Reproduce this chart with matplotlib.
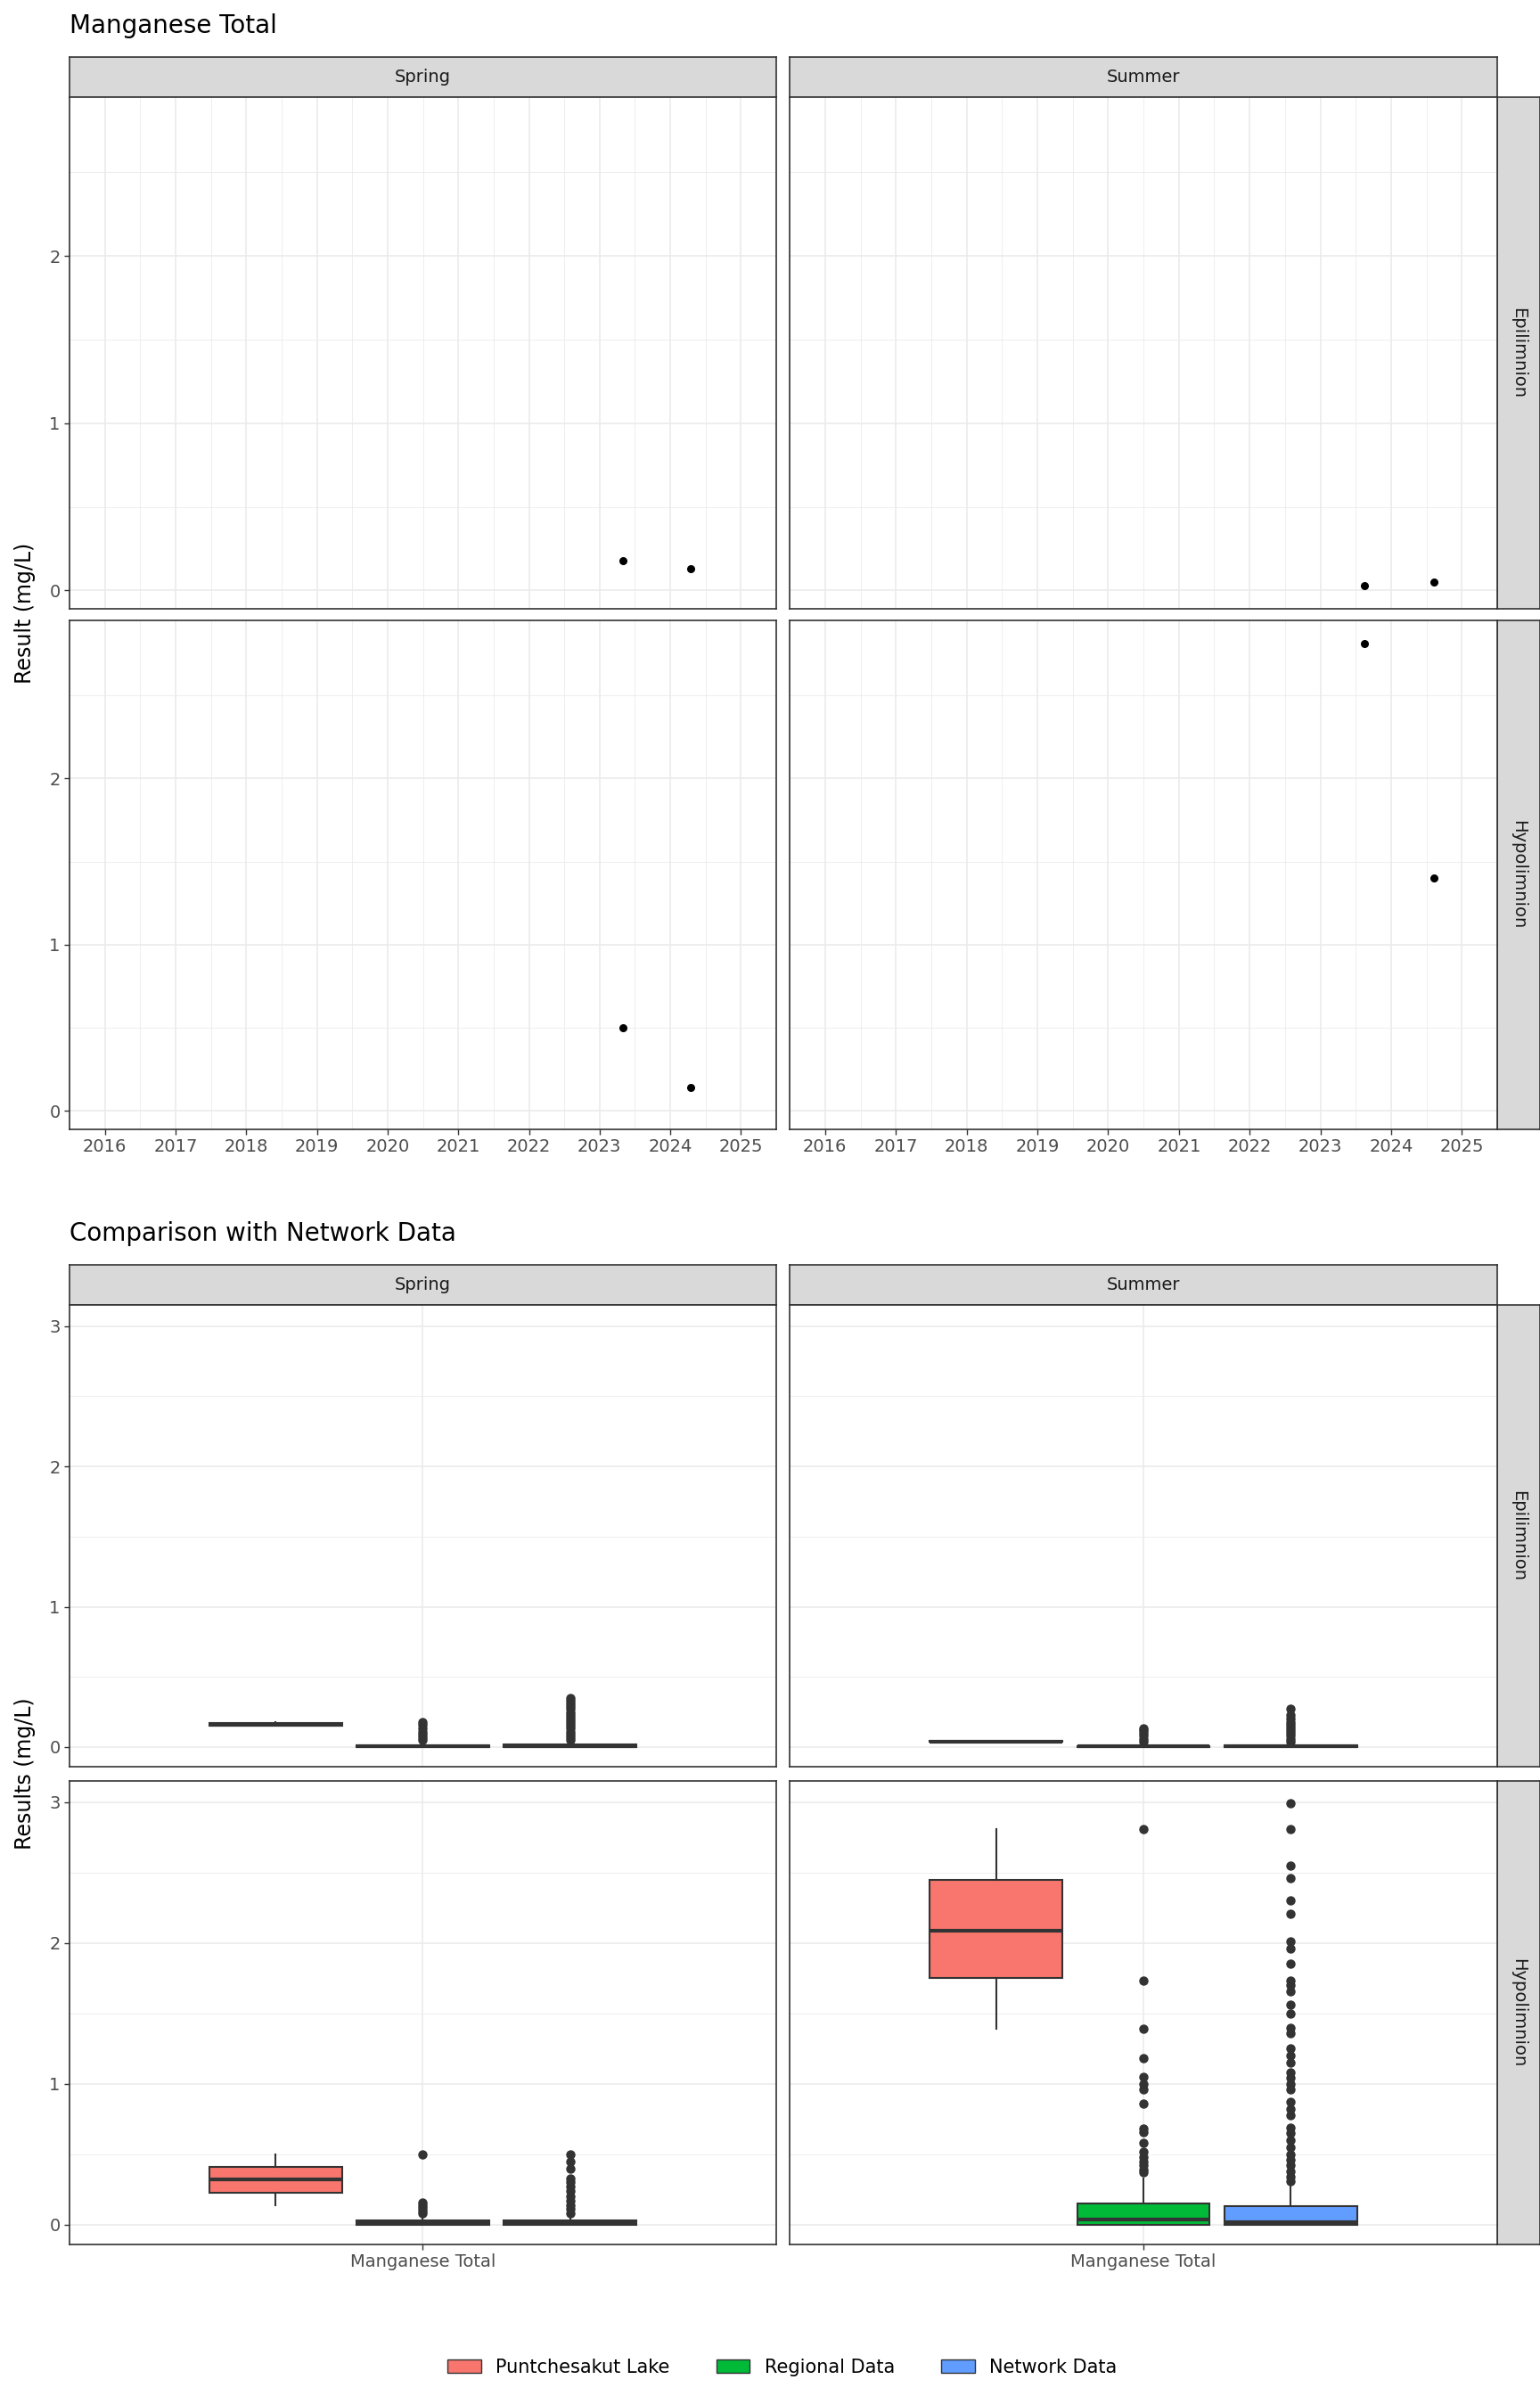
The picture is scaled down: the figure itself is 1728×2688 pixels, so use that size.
import matplotlib
matplotlib.use("Agg")
import matplotlib.pyplot as plt
from matplotlib.patches import Patch
import datetime as dt

W, H = 1728, 2688
seasons = ["Spring", "Summer"]
layers = ["Epilimnion", "Hypolimnion"]
groups = ["Puntchesakut Lake", "Regional Data", "Network Data"]
colors = ["#F8766D", "#00BA38", "#619CFF"]
years = list(range(2016, 2026))

ts_dates = {
    ("Spring", "Epilimnion"): ["2023-05-01", "2024-04-15"],
    ("Summer", "Epilimnion"): ["2023-08-15", "2024-08-10"],
    ("Spring", "Hypolimnion"): ["2023-05-01", "2024-04-15"],
    ("Summer", "Hypolimnion"): ["2023-08-15", "2024-08-10"],
}
ts_vals = {
    ("Spring", "Epilimnion"): [0.18, 0.13],
    ("Summer", "Epilimnion"): [0.03, 0.05],
    ("Spring", "Hypolimnion"): [0.50, 0.14],
    ("Summer", "Hypolimnion"): [2.81, 1.40],
}

box_stats = {
    ("Spring", "Epilimnion"): [
        (0.15, 0.155, 0.16, 0.17, 0.175, []),
        (0.0, 0.0, 0.005, 0.01, 0.02, [0.05, 0.07, 0.09, 0.11, 0.13, 0.16, 0.18]),
        (0.0, 0.0, 0.008, 0.02, 0.04, [0.05, 0.07, 0.09, 0.11, 0.13, 0.15, 0.17, 0.19, 0.21, 0.23, 0.25, 0.27, 0.29, 0.31, 0.33, 0.35]),
    ],
    ("Summer", "Epilimnion"): [
        (0.035, 0.037, 0.04, 0.045, 0.047, []),
        (0.0, 0.0, 0.003, 0.008, 0.02, [0.04, 0.06, 0.08, 0.1, 0.12, 0.13]),
        (0.0, 0.0, 0.003, 0.01, 0.02, [0.04, 0.06, 0.08, 0.1, 0.12, 0.14, 0.16, 0.18, 0.2, 0.23, 0.27]),
    ],
    ("Spring", "Hypolimnion"): [
        (0.14, 0.23, 0.32, 0.41, 0.50, []),
        (0.0, 0.0, 0.02, 0.03, 0.06, [0.08, 0.10, 0.12, 0.14, 0.16, 0.50]),
        (0.0, 0.0, 0.02, 0.03, 0.06, [0.08, 0.11, 0.14, 0.17, 0.20, 0.24, 0.27, 0.30, 0.33, 0.40, 0.45, 0.50]),
    ],
    ("Summer", "Hypolimnion"): [
        (1.39, 1.75, 2.09, 2.45, 2.81, []),
        (0.0, 0.0, 0.04, 0.15, 0.33, [0.37, 0.39, 0.42, 0.45, 0.48, 0.52, 0.58, 0.66, 0.68, 0.86, 0.96, 1.0, 1.05, 1.18, 1.39, 1.73, 2.81]),
        (0.0, 0.0, 0.02, 0.13, 0.29, [0.31, 0.34, 0.38, 0.42, 0.46, 0.5, 0.55, 0.6, 0.65, 0.69, 0.78, 0.82, 0.87, 0.96, 1.0, 1.04, 1.08, 1.15, 1.2, 1.25, 1.36, 1.4, 1.5, 1.56, 1.66, 1.7, 1.73, 1.85, 1.96, 2.01, 2.21, 2.3, 2.46, 2.55, 2.81, 2.99]),
    ],
}

fig = plt.figure(figsize=(W / 100, H / 100), dpi=100)
GRID = "#EBEBEB"
DARK = "#333333"

def ax_px(x0, y0, x1, y1):
    return fig.add_axes([x0 / W, 1 - y1 / H, (x1 - x0) / W, (y1 - y0) / H])

def style(ax):
    for s in ax.spines.values():
        s.set_color(DARK); s.set_linewidth(1.2)
    ax.tick_params(colors=DARK, labelcolor="#4D4D4D", labelsize=14, length=4, width=1)
    ax.set_axisbelow(True)

def strip(x0, x1, y0, y1, text, rot=0):
    a = ax_px(x0, y0, x1, y1)
    a.set_facecolor("#D9D9D9"); a.set_xticks([]); a.set_yticks([])
    for s in a.spines.values():
        s.set_color(DARK); s.set_linewidth(1.2)
    a.text(0.5, 0.5, text, ha="center", va="center", rotation=rot, fontsize=14, color="#1A1A1A", transform=a.transAxes)

cols = [(78, 871), (886, 1680)]

fig.text(78 / W, 1 - 29 / H, "Manganese Total", fontsize=20, va="center", ha="left")
rows_top = [(109, 683), (696, 1267)]
for j, (x0, x1) in enumerate(cols):
    strip(x0, x1, 64, 109, seasons[j])
for i, (y0, y1) in enumerate(rows_top):
    strip(1680, 1728, y0, y1, layers[i], rot=-90)
    for j, (x0, x1) in enumerate(cols):
        ax = ax_px(x0, y0, x1, y1)
        style(ax)
        key = (seasons[j], layers[i])
        d = [dt.datetime.fromisoformat(s) for s in ts_dates[key]]
        ax.scatter(d, ts_vals[key], s=30, color="black", zorder=3)
        ax.set_xlim(dt.datetime(2015, 7, 26), dt.datetime(2025, 6, 6))
        ax.set_ylim(-0.11, 2.95)
        ax.set_yticks([0, 1, 2])
        ax.set_yticks([0.5, 1.5, 2.5], minor=True)
        ax.set_xticks([dt.datetime(y, 1, 1) for y in years])
        ax.set_xticks([dt.datetime(y, 7, 2) for y in range(2015, 2026)], minor=True)
        ax.tick_params(which="minor", length=0)
        ax.grid(True, which="major", color=GRID, lw=1.2)
        ax.grid(True, which="minor", color=GRID, lw=0.6)
        if i == 1:
            ax.set_xticklabels([str(y) for y in years])
        else:
            ax.set_xticklabels([]); ax.tick_params(axis="x", length=0)
        if j == 1:
            ax.set_yticklabels([]); ax.tick_params(axis="y", length=0)
fig.text(28 / W, 1 - 688 / H, "Result (mg/L)", rotation=90, fontsize=17, va="center", ha="center")

fig.text(78 / W, 1 - 1384 / H, "Comparison with Network Data", fontsize=20, va="center", ha="left")
rows_bot = [(1464, 1982), (1998, 2518)]
for j, (x0, x1) in enumerate(cols):
    strip(x0, x1, 1419, 1464, seasons[j])
positions = [0.75, 1.0, 1.25]
for i, (y0, y1) in enumerate(rows_bot):
    strip(1680, 1728, y0, y1, layers[i], rot=-90)
    for j, (x0, x1) in enumerate(cols):
        ax = ax_px(x0, y0, x1, y1)
        style(ax)
        key = (seasons[j], layers[i])
        stats = [dict(whislo=lo, q1=q1, med=med, q3=q3, whishi=hi, fliers=fl)
                 for lo, q1, med, q3, hi, fl in box_stats[key]]
        bp = ax.bxp(stats, positions=positions, widths=0.225, patch_artist=True,
                    showfliers=True,
                    boxprops=dict(edgecolor=DARK, linewidth=1.5),
                    medianprops=dict(color=DARK, linewidth=3),
                    whiskerprops=dict(color=DARK, linewidth=1.5),
                    capprops=dict(linewidth=0),
                    flierprops=dict(marker="o", markerfacecolor=DARK, markeredgecolor=DARK, markersize=6.5))
        for patch, c in zip(bp["boxes"], colors):
            patch.set_facecolor(c)
        ax.set_xlim(0.4, 1.6)
        ax.set_ylim(-0.14, 3.15)
        ax.set_yticks([0, 1, 2, 3])
        ax.set_yticks([0.5, 1.5, 2.5], minor=True)
        ax.tick_params(which="minor", length=0)
        ax.grid(True, which="major", color=GRID, lw=1.2)
        ax.grid(True, which="minor", color=GRID, lw=0.6, axis="y")
        ax.set_xticks([1.0])
        if i == 1:
            ax.set_xticklabels(["Manganese Total"])
        else:
            ax.set_xticklabels([]); ax.tick_params(axis="x", length=0)
        if j == 1:
            ax.set_yticklabels([]); ax.tick_params(axis="y", length=0)
fig.text(28 / W, 1 - 1990 / H, "Results (mg/L)", rotation=90, fontsize=17, va="center", ha="center")

handles = [Patch(facecolor=c, edgecolor=DARK, label=g) for g, c in zip(groups, colors)]
fig.legend(handles=handles, loc="center", bbox_to_anchor=(0.508, 1 - 2656 / H), ncol=3,
           frameon=False, fontsize=15, handlelength=1.8, columnspacing=2.5)

fig.savefig("out.png", dpi=100)
